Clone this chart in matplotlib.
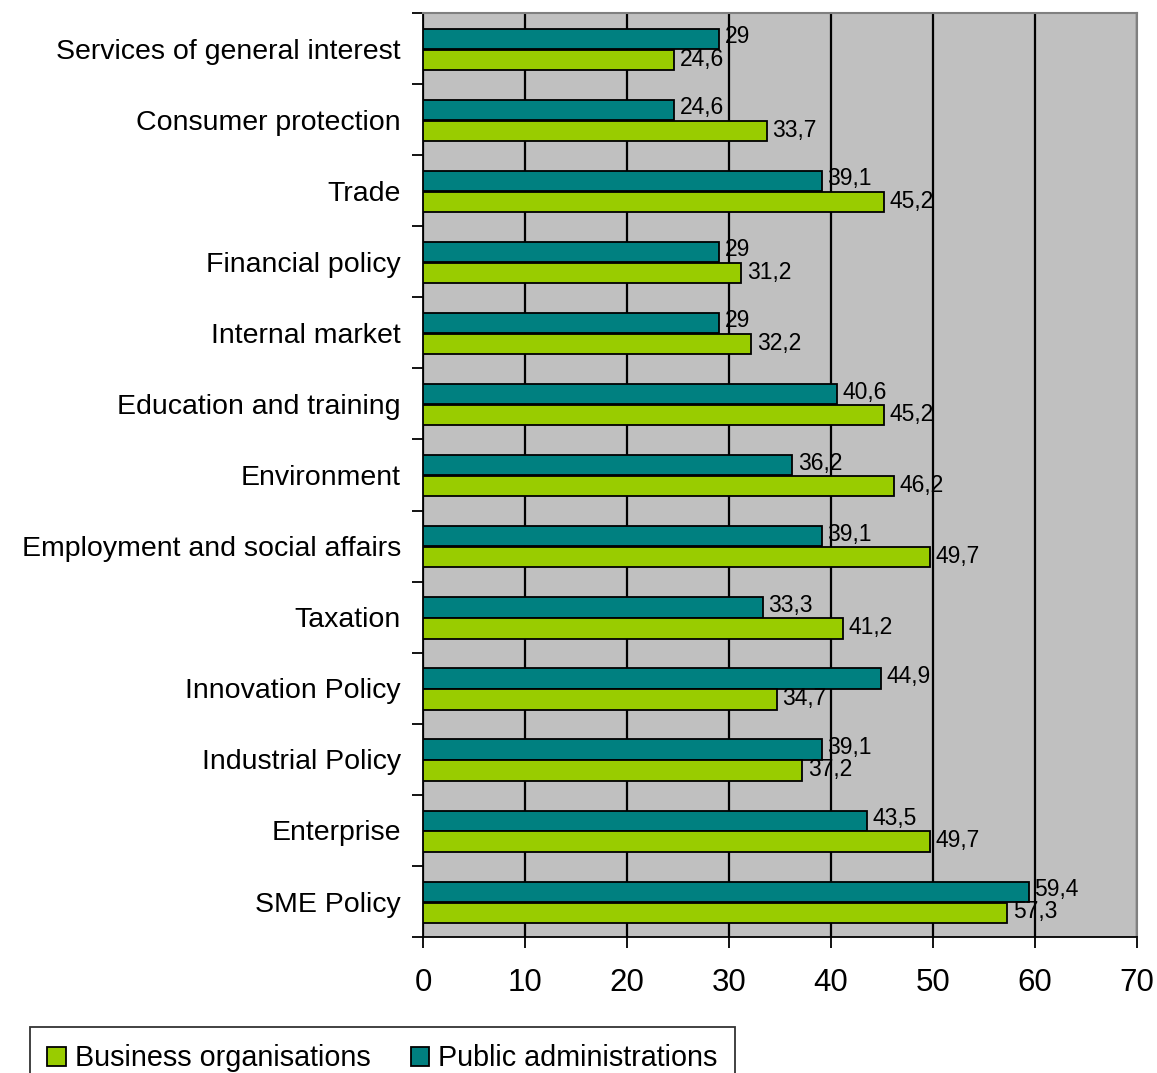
import matplotlib
matplotlib.use("Agg")
import matplotlib.pyplot as plt
from matplotlib.patches import Patch

plt.rcParams['font.family'] = ['Liberation Sans', 'DejaVu Sans']

categories = [
    "Services of general interest",
    "Consumer protection",
    "Trade",
    "Financial policy",
    "Internal market",
    "Education and training",
    "Environment",
    "Employment and social affairs",
    "Taxation",
    "Innovation Policy",
    "Industrial Policy",
    "Enterprise",
    "SME Policy",
]
public_admin = [29, 24.6, 39.1, 29, 29, 40.6, 36.2, 39.1, 33.3, 44.9, 39.1, 43.5, 59.4]
business_org = [24.6, 33.7, 45.2, 31.2, 32.2, 45.2, 46.2, 49.7, 41.2, 34.7, 37.2, 49.7, 57.3]
x_ticks = [0, 10, 20, 30, 40, 50, 60, 70]

TEAL = "#008080"
GREEN = "#99CC00"
BG = "#C0C0C0"


def fmt(v):
    s = f"{v:g}"
    return s.replace(".", ",")


fig = plt.figure(figsize=(11.57, 10.73), dpi=100)
ax = fig.add_axes([0.3656, 0.1267, 0.6171, 0.8612])
ax.set_facecolor(BG)

n = len(categories)
ypos = list(range(n))
bh = 0.285
pa_y = [y - bh / 2 + 0.005 for y in ypos]
bo_y = [y + bh / 2 + 0.015 for y in ypos]

ax.barh(pa_y, public_admin, height=bh, color=TEAL, edgecolor="black", linewidth=1.3, zorder=3)
ax.barh(bo_y, business_org, height=bh, color=GREEN, edgecolor="black", linewidth=1.3, zorder=3)

for y, v in zip(pa_y, public_admin):
    ax.text(v + 0.55, y - 0.03, fmt(v), fontsize=16.5, va="center", ha="left", zorder=4)
for y, v in zip(bo_y, business_org):
    ax.text(v + 0.55, y - 0.01, fmt(v), fontsize=16.5, va="center", ha="left", zorder=4)

ax.set_xlim(0, 70)
ax.set_ylim(n - 0.5, -0.5)
ax.set_xticks(x_ticks)
ax.set_xticklabels([str(t) for t in x_ticks], fontsize=22.5)
ax.tick_params(axis="x", direction="out", length=8, width=1.3, pad=14, color="black")

# category labels at group centres, tick marks at group boundaries
ax.set_yticks(ypos)
ax.set_yticklabels(categories, fontsize=20.5)
ax.tick_params(axis="y", which="major", length=0, pad=16)
ax.set_yticks([y - 0.5 for y in ypos] + [n - 0.5], minor=True)
ax.tick_params(axis="y", which="minor", direction="out", length=8, width=1.3, color="black")

ax.grid(axis="x", color="black", linewidth=1.6, zorder=1)
ax.set_axisbelow(True)

ax.spines["left"].set_color("black")
ax.spines["left"].set_linewidth(1.3)
ax.spines["bottom"].set_color("black")
ax.spines["bottom"].set_linewidth(1.3)
ax.spines["top"].set_color("#808080")
ax.spines["top"].set_linewidth(1.5)
ax.spines["right"].set_color("#808080")
ax.spines["right"].set_linewidth(1.5)

handles = [
    Patch(facecolor=GREEN, edgecolor="black", linewidth=1.3, label="Business organisations"),
    Patch(facecolor=TEAL, edgecolor="black", linewidth=1.3, label="Public administrations"),
]
leg = fig.legend(handles=handles, loc="upper left", bbox_to_anchor=(30 / 1157, 1 - 1027 / 1073),
                 ncol=2, fontsize=20.7, frameon=True, fancybox=False, borderaxespad=0,
                 handlelength=0.65, handleheight=0.65, handletextpad=0.3,
                 columnspacing=1.4, borderpad=0.6)
leg.get_frame().set_edgecolor("black")
leg.get_frame().set_linewidth(1.3)

fig.savefig("out.png", dpi=100)
